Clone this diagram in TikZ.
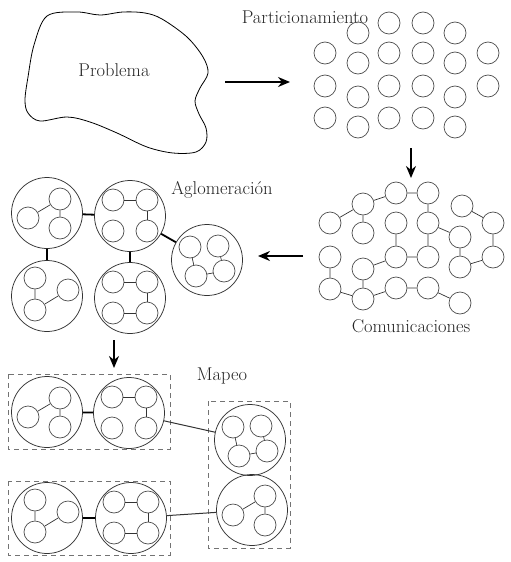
\documentclass[tikz,border=0pt]{standalone}
\usetikzlibrary{arrows.meta}
\begin{document}
\begin{tikzpicture}[x=1pt,y=-1pt,
 sm/.style={circle, draw=black!70, line width=0.7pt, minimum size=22pt, inner sep=0pt},
 big/.style={circle, draw=black!80, line width=0.75pt, minimum size=71pt, inner sep=0pt},
 thinlink/.style={draw=black!80, line width=0.7pt},
 thicklink/.style={draw=black, line width=1.8pt},
 flow/.style={-{Stealth[length=12pt,width=10pt]}, line width=1.5pt},
 region/.style={draw=black!55, dash pattern=on 5pt off 4pt, line width=0.9pt},
 lbl/.style={font=\fontsize{18.5}{22}\selectfont, inner sep=0pt, text=black!85},
 clA/.pic={\node[big] (-c) at (0,0) {};
   \node[sm] (-a) at (-19,5) {}; \node[sm] (-b) at (13,-14) {}; \node[sm] (-d) at (13,15) {};
   \draw[thinlink] (-a) -- (-b) (-b) -- (-d);},
 clB/.pic={\node[big] (-c) at (0,0) {};
   \node[sm] (-a) at (-17,-16) {}; \node[sm] (-b) at (17,-16) {}; \node[sm] (-d) at (-17,15) {}; \node[sm] (-e) at (17,15) {};
   \draw[thinlink] (-a) -- (-b) (-b) -- (-e);},
 clC/.pic={\node[big] (-c) at (0,0) {};
   \node[sm] (-a) at (-17,-13) {}; \node[sm] (-b) at (11,-14) {}; \node[sm] (-d) at (-11,16) {}; \node[sm] (-e) at (17,11) {};
   \draw[thinlink] (-a) -- (-d) (-b) -- (-e) (-d) -- (-e);},
 clD/.pic={\node[big] (-c) at (0,0) {};
   \node[sm] (-a) at (-12,-18) {}; \node[sm] (-b) at (21,-6) {}; \node[sm] (-d) at (-12,14) {};
   \draw[thinlink] (-a) -- (-d) (-d) -- (-b);},
 clE/.pic={\node[big] (-c) at (0,0) {};
   \node[sm] (-a) at (-17,-16) {}; \node[sm] (-b) at (17,-16) {}; \node[sm] (-d) at (-17,15) {}; \node[sm] (-e) at (17,15) {};
   \draw[thinlink] (-a) -- (-b) (-b) -- (-e) (-d) -- (-e);}
]
\useasboundingbox (0,0) rectangle (511,562);

% Problema
\draw[line width=0.8pt] plot[smooth cycle, tension=0.55] coordinates {
 (47,16) (77,12) (100,15) (123,12) (145,13) (162,19) (187,37) (203,57) (208,73)
 (200,88) (195,101) (199,114) (206,128) (206,142) (196,152) (173,153) (147,147)
 (117,133) (90,122) (67,117) (40,121) (28,113) (25,100) (28,77) (34,45)};
\node[lbl] (prob) at (114,70) {Problema};
\coordinate (prob-out) at (225,82);
\coordinate (part-in) at (290,82);
\draw[flow] (prob-out) -- (part-in);

% Particionamiento
\node[lbl] (partlbl) at (305,17) {Particionamiento};
\foreach \x/\y [count=\i] in {389/23,423/23,358/33,455/33,325/53,389/53,423/53,488/53,
  358/63,455/63,325/86,389/86,423/86,488/86,358/97,455/97,325/118,389/118,423/118,358/127,455/127}
  \node[sm] (p\i) at (\x,\y) {};
\coordinate (part-out) at (411,148);
\coordinate (com-in) at (411,178);
\draw[flow] (part-out) -- (com-in);

% Comunicaciones
\foreach \n/\x/\y in {A/396/193,B/428/193,C/363/204,D/462/206,E/330/223,F/363/233,G/396/223,
  H/428/223,I/460/237,J/493/223,K/330/257,L/396/257,M/428/257,N/363/269,O/460/267,P/493/257,
  Q/330/289,R/363/299,S/396/288,T/428/288,U/460/303}
  \node[sm] (c\n) at (\x,\y) {};
\draw[thinlink] (cC)--(cA) (cA)--(cB) (cC)--(cE) (cC)--(cF) (cB)--(cH) (cH)--(cI) (cH)--(cM)
  (cG)--(cL) (cL)--(cM) (cD)--(cJ) (cJ)--(cP) (cI)--(cO) (cO)--(cP) (cK)--(cQ) (cQ)--(cR)
  (cN)--(cR) (cN)--(cL) (cR)--(cS) (cS)--(cT) (cT)--(cU);
\node[lbl] (comlbl) at (411,326) {Comunicaciones};
\coordinate (com-out) at (303,256);
\coordinate (agl-in) at (258,256);
\draw[flow] (com-out) -- (agl-in);

% Aglomeracion
\node[lbl] (agllbl) at (222,190) {Aglomeración};
\pic (g1) at (47,213) {clA};
\pic (g2) at (130,216) {clB};
\pic (g3) at (207,260) {clC};
\pic (g4) at (47,296) {clD};
\pic (g5) at (130,298) {clE};
\draw[thicklink] (g1-c) -- (g2-c) (g1-c) -- (g4-c) (g2-c) -- (g5-c) (g2-c) -- (g3-c);
\coordinate (agl-out) at (114,340);
\coordinate (map-in) at (114,368);
\draw[flow] (agl-out) -- (map-in);

% Mapeo
\node[lbl] (maplbl) at (222,376) {Mapeo};
\draw[region] (8,374) rectangle (170,449);
\draw[region] (8,481) rectangle (170,555);
\draw[region] (208,401) rectangle (290,548);
\pic (m1) at (47,412) {clA};
\pic (m2) at (129,413) {clB};
\pic (m3) at (47,518) {clD};
\pic (m4) at (131,518) {clE};
\pic (m5) at (250,440) {clC};
\pic (m6) at (252,510) {clA};
\draw[thicklink] (m1-c) -- (m2-c) (m3-c) -- (m4-c);
\draw[thinlink, line width=1pt] (m2-c) -- (m5-c) (m4-c) -- (m6-c) (m5-c) -- (m6-c);
\end{tikzpicture}
\end{document}
